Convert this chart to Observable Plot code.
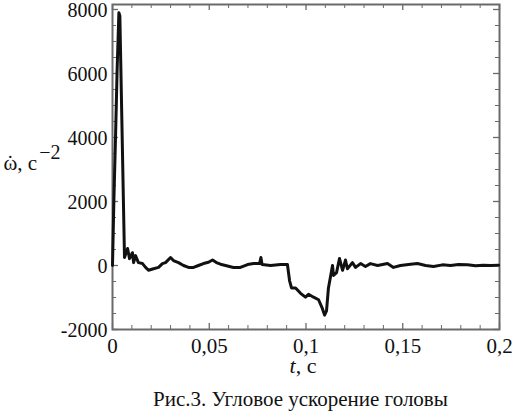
<!DOCTYPE html>
<html>
<head>
<meta charset="utf-8">
<script src="https://cdn.jsdelivr.net/npm/d3@7"></script>
<script src="https://cdn.jsdelivr.net/npm/@observablehq/plot@0.6"></script>
<style>
  body { margin: 0; background: #fff; }
  #chart svg { display: block; }
  #cap { font-family: "Liberation Serif", "Times New Roman", serif; font-size: 21px; color: #111;
         text-align: center; padding-left: 84px; width: 433px; line-height: 24px; margin-top: 3px; }
</style>
</head>
<body>
<div id="chart"></div>
<div id="cap">Рис.3. Угловое ускорение головы</div>
<script>
// time, s
const tVals = [0, 0.0007, 0.0016, 0.0024, 0.0033, 0.0038, 0.0062, 0.0078, 0.0088, 0.0103, 0.0109, 0.0119,
  0.0134, 0.0155, 0.0171, 0.0186, 0.0212, 0.0238, 0.0258, 0.0274, 0.0300, 0.0315, 0.0341, 0.0367,
  0.0393, 0.0419, 0.0444, 0.0470, 0.0496, 0.0517, 0.0537, 0.0558, 0.0584, 0.0625, 0.0661, 0.0698,
  0.0729, 0.0760, 0.0767, 0.0773, 0.0817, 0.0868, 0.0904, 0.0915, 0.0925, 0.0946, 0.0972, 0.0997,
  0.1013, 0.1039, 0.1065, 0.1085, 0.1096, 0.1106, 0.1116, 0.1137, 0.1142, 0.1158, 0.1173, 0.1189,
  0.1204, 0.1214, 0.1240, 0.1256, 0.1282, 0.1307, 0.1333, 0.1370, 0.1421, 0.1452, 0.1488, 0.1540,
  0.1576, 0.1618, 0.1659, 0.1705, 0.1747, 0.1788, 0.1835, 0.1876, 0.1917, 0.1953, 0.1995];
// angular acceleration, 1/s^2
const wVals = [0, 2000, 4100, 6140, 7900, 7800, 250, 530, 215, 400, 90, 310,
  90, 60, -60, -150, -100, -60, 60, 90, 250, 155, 90, 0,
  -60, -60, 0, 60, 100, 170, 90, 40, 0, -60, -60, 30,
  60, 60, 250, 30, 0, 30, 30, -470, -700, -700, -870, -990,
  -900, -990, -1070, -1350, -1550, -1420, -700, 0, -310, -220, 220, -150,
  170, -100, 90, -60, 60, -30, 60, 0, 60, -60, 0, 40,
  60, 0, -30, 20, 0, 30, 20, -10, 10, 0, 10];

const xMajor = [0, 0.05, 0.1, 0.15, 0.2];
const xMinor = [0.01, 0.02, 0.03, 0.04, 0.06, 0.07, 0.08, 0.09, 0.11, 0.12, 0.13, 0.14, 0.16, 0.17, 0.18, 0.19];
const yMajor = [-2000, 0, 2000, 4000, 6000, 8000];
const yMinor = [-1500, -1000, -500, 500, 1000, 1500, 2500, 3000, 3500, 4500, 5000, 5500, 6500, 7000, 7500];

const yLabelText = "ω, c";
const xLabelText = "t, c";

const data = tVals.map((t, i) => ({t, w: wVals[i]}));
const frameColor = "#6a6a6a";
const fmtX = d => String(d).replace(".", ",");
const fmtY = d => String(d);
const serif = "Liberation Serif, Times New Roman, serif";

const W = 517, H = 384, mL = 112, mR = 18, mT = 4, mB = 55;
const pw = W - mL - mR, ph = H - mT - mB;

const chart = Plot.plot({
  width: W,
  height: H,
  marginLeft: mL,
  marginRight: mR,
  marginTop: mT,
  marginBottom: mB,
  style: {fontFamily: serif, fontSize: "21px", color: "#111", background: "#fff", overflow: "visible"},
  x: {domain: [0, 0.2]},
  y: {domain: [-2000, 8156]},
  marks: [
    // minor ticks (inward)
    Plot.tickX(xMinor, {x: d => d, insetTop: ph - 4, stroke: frameColor, strokeWidth: 1}),
    Plot.tickX(xMinor, {x: d => d, insetBottom: ph - 4, stroke: frameColor, strokeWidth: 1}),
    Plot.tickY(yMinor, {y: d => d, insetRight: pw - 4, stroke: frameColor, strokeWidth: 1}),
    Plot.tickY(yMinor, {y: d => d, insetLeft: pw - 4, stroke: frameColor, strokeWidth: 1}),
    // major ticks (inward)
    Plot.tickX(xMajor, {x: d => d, insetTop: ph - 6, stroke: frameColor, strokeWidth: 1.3}),
    Plot.tickX(xMajor, {x: d => d, insetBottom: ph - 6, stroke: frameColor, strokeWidth: 1.3}),
    Plot.tickY(yMajor, {y: d => d, insetRight: pw - 6, stroke: frameColor, strokeWidth: 1.3}),
    Plot.tickY(yMajor, {y: d => d, insetLeft: pw - 6, stroke: frameColor, strokeWidth: 1.3}),
    // tick labels
    Plot.axisX(xMajor, {anchor: "bottom", tickSize: 0, tickPadding: 9, tickFormat: fmtX, label: null, fill: "#111"}),
    Plot.axisY(yMajor, {anchor: "left", tickSize: 0, tickPadding: 5, tickFormat: fmtY, label: null, fill: "#111", fontSize: 20, dy: 1}),
    Plot.frame({stroke: frameColor, strokeWidth: 2}),
    Plot.line(data, {x: "t", y: "w", stroke: "#111", strokeWidth: 3, strokeLinejoin: "round", strokeLinecap: "round"}),
    // axis titles
    Plot.text([xLabelText], {className: "xlab", frameAnchor: "bottom-left", text: d => d, dx: 289 - mL, dy: 43, textAnchor: "start", lineAnchor: "bottom", fontSize: 22, fill: "#111"}),
    Plot.text([yLabelText], {className: "ylab", frameAnchor: "top-left", text: d => d, dx: 3 - mL, dy: 169 - mT, textAnchor: "start", lineAnchor: "bottom", fontSize: 21, fill: "#111"})
  ]
});

// rich text: italic t; dotted omega with superscript
const xl = d3.select(chart).select("g.xlab text");
xl.text(null);
xl.append("tspan").attr("font-style", "italic").text("t");
xl.append("tspan").text(", c");

const yl = d3.select(chart).select("g.ylab text");
yl.text(null);
yl.append("tspan").text("ω");
yl.append("tspan").attr("dx", "-10.5").text("\u02D9");
yl.append("tspan").attr("dx", "3.5").text(", c");
yl.append("tspan").attr("dx", "2").attr("dy", "-11").attr("font-size", 20).text("\u22122");

document.getElementById("chart").appendChild(chart);
</script>
</body>
</html>
